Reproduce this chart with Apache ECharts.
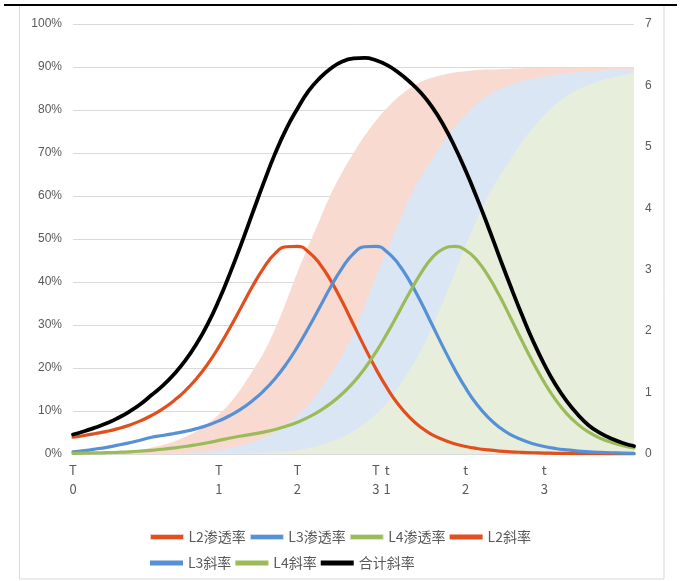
<!DOCTYPE html>
<html>
<head>
<meta charset="utf-8">
<script src="https://cdn.jsdelivr.net/npm/echarts@6/dist/echarts.min.js"></script>
<style>
html, body { margin: 0; padding: 0; background: #fff; }
#chart { width: 681px; height: 581px; }
</style>
</head>
<body>
<div id="chart"></div>
<script>
// Periods 0..50 along the x axis; only a few carry a stage label.
const periods = Array.from({ length: 51 }, (_, i) => String(i));
const tickIndex = [0, 13, 20, 27, 28, 35, 42];
const tickLabels = ['T0', 'T1', 'T2', 'T3', 't1', 't2', 't3'];

// Penetration rates (%), left axis
const l2Penetration = [0.1,0.15,0.2,0.3,0.45,0.65,0.9,1.5,2.1,2.9,4.0,5.3,7.1,9.2,11.9,15.3,19.3,23.6,29.0,35.4,42.2,48.5,54.5,60.5,65.5,70.0,74.0,77.5,80.5,83.0,85.0,86.5,87.5,88.2,88.7,89.0,89.3,89.4,89.5,89.6,89.7,89.75,89.8,89.85,89.85,89.9,89.9,89.9,89.95,89.95,89.95];
const l3Penetration = [0.02,0.03,0.04,0.05,0.07,0.08,0.1,0.12,0.14,0.19,0.28,0.43,0.63,0.88,1.4,2.0,2.8,3.8,5.1,6.8,8.9,11.5,14.8,18.7,23.0,28.2,34.5,41.2,47.5,53.6,59.6,64.5,68.5,72.5,76.0,79.0,81.5,83.3,84.8,85.9,86.7,87.3,87.8,88.2,88.5,88.8,89.0,89.15,89.3,89.4,89.5];
const l4Penetration = [0,0,0,0.01,0.01,0.02,0.02,0.03,0.03,0.04,0.05,0.06,0.07,0.09,0.1,0.14,0.19,0.27,0.4,0.6,0.9,1.4,2.0,2.9,3.9,5.3,7.1,9.3,12.0,15.5,19.5,24.0,29.5,35.5,42.0,48.5,54.5,60.0,64.5,68.5,72.5,75.8,78.8,81.3,83.2,84.7,85.8,86.8,87.5,88.1,88.6];

// Slopes, right axis
const l2Slope = [0.273,0.301,0.333,0.368,0.413,0.469,0.539,0.627,0.735,0.868,1.029,1.225,1.463,1.743,2.058,2.394,2.730,3.031,3.262,3.374,3.381,3.290,3.094,2.814,2.478,2.107,1.736,1.386,1.071,0.805,0.595,0.434,0.315,0.231,0.168,0.123,0.090,0.066,0.048,0.036,0.027,0.020,0.015,0.011,0.008,0.006,0.005,0.004,0.003,0.002,0.001];
const l3Slope = [0.035,0.056,0.081,0.109,0.144,0.182,0.224,0.273,0.301,0.333,0.368,0.413,0.469,0.539,0.627,0.735,0.868,1.029,1.225,1.463,1.743,2.058,2.394,2.730,3.031,3.262,3.374,3.381,3.290,3.094,2.814,2.478,2.107,1.736,1.386,1.071,0.805,0.595,0.434,0.315,0.231,0.168,0.123,0.090,0.066,0.048,0.036,0.027,0.020,0.015,0.011];
const l4Slope = [0.010,0.013,0.017,0.022,0.028,0.036,0.047,0.060,0.077,0.098,0.122,0.151,0.183,0.221,0.260,0.293,0.323,0.357,0.399,0.452,0.518,0.600,0.702,0.828,0.981,1.166,1.392,1.659,1.964,2.293,2.629,2.941,3.193,3.340,3.379,3.317,3.153,2.898,2.579,2.218,1.847,1.491,1.166,0.885,0.658,0.482,0.351,0.256,0.187,0.136,0.099];
const totalSlope = [0.318,0.370,0.431,0.499,0.585,0.687,0.810,0.960,1.113,1.299,1.519,1.789,2.115,2.503,2.945,3.422,3.921,4.417,4.886,5.289,5.62,5.91,6.12,6.28,6.39,6.44,6.45,6.41,6.33,6.21,6.06,5.88,5.65,5.36,5.01,4.61,4.17,3.70,3.21,2.73,2.27,1.84,1.46,1.13,0.86,0.64,0.46,0.34,0.25,0.18,0.13];

const CJK = '"Noto Sans CJK SC", "Noto Sans", sans-serif';
const LATIN = '"Liberation Sans", Arial, sans-serif';
const TEXT = '#595959';

const RED = '#E24E1E', BLUE = '#5690D6', GREEN = '#9BBB59';
const RED_FILL = '#F8DAD0', BLUE_FILL = '#DBE6F4', GREEN_FILL = '#E7EFDC';

function areaSeries(name, data, lineColor, fill) {
  return {
    name, type: 'line', data, yAxisIndex: 0, smooth: true, symbol: 'none',
    color: lineColor,
    lineStyle: { width: 0, opacity: 0 },
    areaStyle: { color: fill, opacity: 1 },
    z: 1
  };
}
function slopeSeries(name, data, color, width) {
  return {
    name, type: 'line', data, yAxisIndex: 1, smooth: 0.5, symbol: 'none',
    color,
    lineStyle: { width, color, cap: 'round', join: 'round' },
    z: 3
  };
}

const legendCommon = {
  left: 145, icon: 'rect', itemWidth: 33, itemHeight: 5, itemGap: 4,
  textStyle: { fontSize: 14, color: TEXT, fontFamily: CJK, width: 58 },
  selectedMode: false
};

const chart = echarts.init(document.getElementById('chart'), null, { renderer: 'canvas' });
chart.setOption({
  animation: false,
  backgroundColor: '#fff',
  grid: { left: 73, right: 47, top: 24, bottom: 127, containLabel: false },
  xAxis: {
    type: 'category', data: periods, boundaryGap: false,
    axisLine: { lineStyle: { color: '#D9D9D9', width: 1 } },
    axisTick: { show: false },
    axisLabel: {
      interval: 0, margin: 7, color: TEXT, fontSize: 13, lineHeight: 19, fontFamily: CJK,
      formatter: (v, idx) => {
        const k = tickIndex.indexOf(idx);
        return k < 0 ? '' : tickLabels[k].split('').join('\n');
      }
    }
  },
  yAxis: [
    {
      type: 'value', min: 0, max: 100, interval: 10,
      axisLine: { show: false }, axisTick: { show: false },
      axisLabel: { formatter: '{value}%', color: TEXT, fontSize: 12, fontFamily: LATIN, margin: 11 },
      splitLine: { lineStyle: { color: '#D9D9D9', width: 1 } }
    },
    {
      type: 'value', min: 0, max: 7, interval: 1, position: 'right',
      axisLine: { show: false }, axisTick: { show: false },
      axisLabel: { color: TEXT, fontSize: 12, fontFamily: LATIN, margin: 11 },
      splitLine: { show: false }
    }
  ],
  legend: [
    Object.assign({}, legendCommon, {
      top: 525,
      data: [
        { name: 'L2渗透率', itemStyle: { borderColor: '#F6CBBD', borderWidth: 1 } },
        { name: 'L3渗透率', itemStyle: { borderColor: '#C9DAF0', borderWidth: 1 } },
        { name: 'L4渗透率', itemStyle: { borderColor: '#DCE8CB', borderWidth: 1 } },
        'L2斜率'
      ]
    }),
    Object.assign({}, legendCommon, {
      top: 551,
      data: ['L3斜率', 'L4斜率', '合计斜率']
    })
  ],
  graphic: [
    { type: 'rect', silent: true, z: -10,
      shape: { x: 19.5, y: 5.5, width: 644.5, height: 573.5 },
      style: { fill: null, stroke: '#D9D9D9', lineWidth: 1 } },
    { type: 'line', silent: true, z: 10,
      shape: { x1: 4, y1: 5, x2: 677, y2: 5 },
      style: { stroke: '#000', lineWidth: 2 } }
  ],
  series: [
    areaSeries('L2渗透率', l2Penetration, RED, RED_FILL),
    areaSeries('L3渗透率', l3Penetration, BLUE, BLUE_FILL),
    areaSeries('L4渗透率', l4Penetration, GREEN, GREEN_FILL),
    slopeSeries('L2斜率', l2Slope, RED, 3.2),
    slopeSeries('L3斜率', l3Slope, BLUE, 3.2),
    slopeSeries('L4斜率', l4Slope, GREEN, 3.2),
    slopeSeries('合计斜率', totalSlope, '#000000', 3.8)
  ]
});
</script>
</body>
</html>
